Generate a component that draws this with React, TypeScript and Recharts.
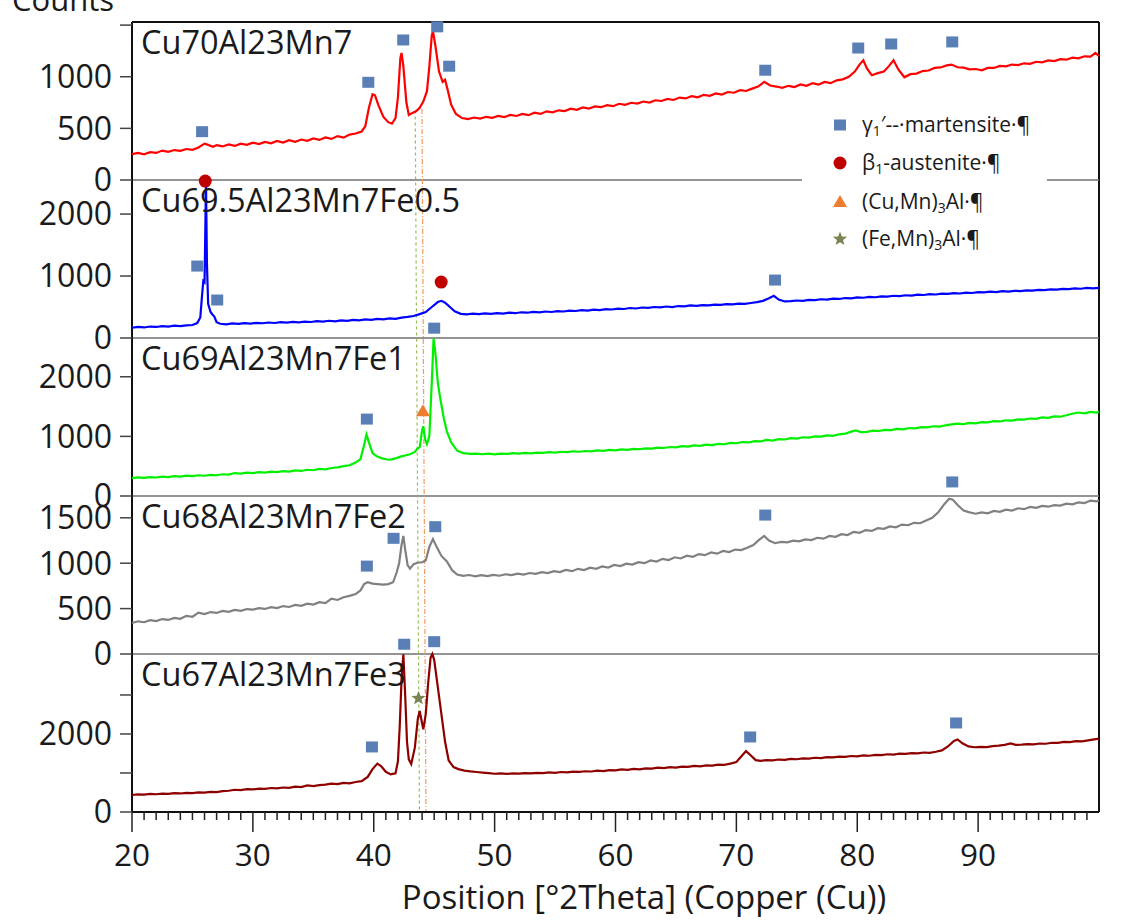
import React from "react";
import { LineChart, Line, XAxis, YAxis, ReferenceDot, ReferenceLine } from "recharts";

type Pt = [number, number];
type Mark = { x: number; y: number; kind: "sq" | "circ" | "tri" | "star" };

// diffraction patterns, [2theta, counts]
const cu70: Pt[] = [
  [20, 250], [20.5, 262], [21, 248], [21.5, 270], [22, 262], [22.5, 285], [23, 272], [23.5, 290], [24, 282], [24.5, 300],
  [25, 292], [25.5, 315], [26, 352], [26.3, 340], [26.7, 322], [27, 338], [27.5, 325], [28, 345], [28.5, 330], [29, 352],
  [29.5, 340], [30, 362], [30.5, 348], [31, 368], [31.5, 355], [32, 378], [32.5, 362], [33, 385], [33.5, 370], [34, 392],
  [34.5, 380], [35, 402], [35.5, 388], [36, 412], [36.5, 398], [37, 425], [37.5, 410], [38, 440], [38.5, 450], [39, 470],
  [39.3, 520], [39.6, 700], [39.9, 830], [40.1, 820], [40.4, 720], [40.8, 610], [41.2, 560], [41.5, 545], [41.8, 600], [42, 800],
  [42.2, 1180], [42.3, 1230], [42.45, 1100], [42.7, 750], [42.9, 630], [43.2, 650], [43.5, 665], [43.8, 700], [44.1, 760], [44.4, 860],
  [44.6, 1100], [44.8, 1400], [44.9, 1440], [45.1, 1300], [45.4, 1050], [45.7, 950], [45.9, 970], [46.1, 880], [46.4, 730], [46.8, 640],
  [47.3, 600], [47.8, 590], [48.3, 605], [48.8, 595], [49.3, 612], [49.8, 602], [50.3, 620], [50.8, 610], [51.3, 630], [51.8, 620],
  [52.3, 640], [52.8, 628], [53.3, 652], [53.8, 640], [54.3, 665], [54.8, 655], [55.3, 675], [55.8, 668], [56.3, 690], [56.8, 680],
  [57.3, 702], [57.8, 692], [58.3, 712], [58.8, 705], [59.3, 725], [59.8, 715], [60.3, 738], [60.8, 728], [61.3, 748], [61.8, 740],
  [62.3, 760], [62.8, 750], [63.3, 772], [63.8, 765], [64.3, 785], [64.8, 775], [65.3, 798], [65.8, 790], [66.3, 812], [66.8, 800],
  [67.3, 825], [67.8, 815], [68.3, 838], [68.8, 828], [69.3, 852], [69.8, 845], [70.3, 870], [70.8, 862], [71.3, 885], [71.8, 905],
  [72.3, 950], [72.8, 915], [73.3, 905], [73.8, 892], [74.3, 912], [74.8, 900], [75.3, 925], [75.8, 912], [76.3, 938], [76.8, 925],
  [77.3, 950], [77.8, 938], [78.3, 965], [78.8, 975], [79.3, 1000], [79.8, 1050], [80.2, 1120], [80.5, 1160], [80.8, 1080], [81.2, 1015],
  [81.7, 1035], [82.2, 1050], [82.6, 1100], [83, 1160], [83.4, 1070], [83.9, 995], [84.4, 1025], [84.9, 1030], [85.4, 1055], [85.9, 1060],
  [86.4, 1085], [86.9, 1090], [87.4, 1110], [87.8, 1118], [88.3, 1092], [88.8, 1088], [89.3, 1072], [89.8, 1075], [90.3, 1062], [90.8, 1085],
  [91.3, 1085], [91.8, 1105], [92.3, 1100], [92.8, 1118], [93.3, 1112], [93.8, 1130], [94.3, 1125], [94.8, 1145], [95.3, 1140], [95.8, 1158],
  [96.3, 1152], [96.8, 1170], [97.3, 1165], [97.8, 1185], [98.3, 1178], [98.8, 1198], [99.3, 1195], [99.7, 1230], [100, 1200],
];

const cu695: Pt[] = [
  [20, 165], [20.5, 180], [21, 170], [21.5, 185], [22, 178], [22.5, 192], [23, 185], [23.5, 200], [24, 192], [24.5, 205],
  [25, 210], [25.4, 240], [25.65, 330], [25.8, 700], [25.9, 920], [26, 900], [26.05, 1500], [26.12, 2530], [26.2, 1200], [26.3, 550],
  [26.5, 420], [26.65, 380], [26.8, 350], [27, 255], [27.3, 230], [27.8, 220], [28.3, 235], [28.8, 228], [29.3, 240], [29.8, 232],
  [30.3, 245], [30.8, 238], [31.3, 250], [31.8, 242], [32.3, 255], [32.8, 248], [33.3, 260], [33.8, 252], [34.3, 265], [34.8, 258],
  [35.3, 272], [35.8, 265], [36.3, 278], [36.8, 270], [37.3, 285], [37.8, 278], [38.3, 292], [38.8, 285], [39.3, 300], [39.8, 292],
  [40.3, 308], [40.8, 300], [41.3, 318], [41.8, 310], [42.3, 330], [42.8, 340], [43.3, 355], [43.8, 385], [44.3, 420], [44.8, 500],
  [45.3, 580], [45.6, 600], [45.9, 570], [46.3, 500], [46.7, 430], [47.2, 390], [47.7, 380], [48.2, 392], [48.7, 385], [49.2, 398],
  [49.7, 390], [50.2, 400], [50.7, 395], [51.2, 408], [51.7, 400], [52.2, 415], [52.7, 408], [53.2, 420], [53.7, 415], [54.2, 428],
  [54.7, 420], [55.2, 435], [55.7, 428], [56.2, 442], [56.7, 436], [57.2, 450], [57.7, 442], [58.2, 458], [58.7, 450], [59.2, 466],
  [59.7, 460], [60.2, 475], [60.7, 468], [61.2, 484], [61.7, 476], [62.2, 492], [62.7, 485], [63.2, 500], [63.7, 494], [64.2, 508],
  [64.7, 500], [65.2, 516], [65.7, 510], [66.2, 525], [66.7, 518], [67.2, 532], [67.7, 526], [68.2, 540], [68.7, 534], [69.2, 548],
  [69.7, 542], [70.2, 556], [70.7, 550], [71.2, 565], [71.7, 580], [72.2, 600], [72.7, 640], [73.1, 680], [73.5, 620], [74, 590],
  [74.5, 595], [75, 605], [75.5, 600], [76, 615], [76.5, 610], [77, 625], [77.5, 620], [78, 635], [78.5, 630], [79, 645],
  [79.5, 640], [80, 655], [80.5, 650], [81, 664], [81.5, 658], [82, 672], [82.5, 668], [83, 682], [83.5, 676], [84, 690],
  [84.5, 685], [85, 700], [85.5, 694], [86, 708], [86.5, 702], [87, 716], [87.5, 712], [88, 724], [88.5, 718], [89, 732],
  [89.5, 726], [90, 740], [90.5, 735], [91, 748], [91.5, 742], [92, 756], [92.5, 750], [93, 762], [93.5, 758], [94, 770],
  [94.5, 765], [95, 778], [95.5, 772], [96, 786], [96.5, 780], [97, 792], [97.5, 788], [98, 800], [98.5, 795], [99, 808],
  [99.5, 802], [100, 810],
];

const cu69: Pt[] = [
  [20, 300], [20.5, 312], [21, 305], [21.5, 318], [22, 310], [22.5, 325], [23, 318], [23.5, 332], [24, 325], [24.5, 340],
  [25, 333], [25.5, 348], [26, 340], [26.5, 355], [27, 348], [27.5, 365], [28, 358], [28.5, 385], [29, 375], [29.5, 392],
  [30, 385], [30.5, 400], [31, 392], [31.5, 408], [32, 400], [32.5, 418], [33, 410], [33.5, 428], [34, 420], [34.5, 440],
  [35, 432], [35.5, 455], [36, 445], [36.5, 470], [37, 480], [37.5, 500], [38, 515], [38.5, 560], [38.9, 620], [39.2, 850],
  [39.4, 1030], [39.6, 900], [39.9, 720], [40.25, 665], [40.7, 630], [41.1, 612], [41.4, 610], [41.8, 630], [42.2, 660], [42.6, 680],
  [43, 700], [43.4, 740], [43.6, 790], [43.8, 820], [44, 1100], [44.1, 1170], [44.25, 950], [44.4, 870], [44.6, 1000], [44.8, 1900],
  [44.95, 2640], [45.1, 2400], [45.3, 1900], [45.5, 1640], [45.8, 1300], [46.05, 1085], [46.4, 900], [46.9, 760], [47.4, 720], [48, 705],
  [48.5, 712], [49, 700], [49.5, 710], [50, 698], [50.5, 712], [51, 705], [51.5, 718], [52, 710], [52.5, 722], [53, 715],
  [53.5, 728], [54, 722], [54.5, 735], [55, 728], [55.5, 742], [56, 736], [56.5, 750], [57, 742], [57.5, 755], [58, 750],
  [58.5, 765], [59, 758], [59.5, 772], [60, 765], [60.5, 782], [61, 775], [61.5, 790], [62, 784], [62.5, 800], [63, 795],
  [63.5, 812], [64, 805], [64.5, 822], [65, 815], [65.5, 835], [66, 828], [66.5, 848], [67, 840], [67.5, 860], [68, 855],
  [68.5, 875], [69, 868], [69.5, 890], [70, 885], [70.5, 905], [71, 898], [71.5, 920], [72, 915], [72.5, 940], [73, 930],
  [73.5, 955], [74, 948], [74.5, 970], [75, 962], [75.5, 985], [76, 978], [76.5, 1000], [77, 995], [77.5, 1018], [78, 1010],
  [78.5, 1035], [79, 1045], [79.5, 1080], [79.9, 1100], [80.3, 1070], [80.8, 1075], [81.3, 1095], [81.8, 1090], [82.3, 1110], [82.8, 1105],
  [83.3, 1125], [83.8, 1118], [84.3, 1140], [84.8, 1135], [85.3, 1155], [85.8, 1150], [86.3, 1170], [86.8, 1165], [87.3, 1185], [87.8, 1200],
  [88.3, 1215], [88.8, 1205], [89.3, 1225], [89.8, 1218], [90.3, 1240], [90.8, 1235], [91.3, 1255], [91.8, 1250], [92.3, 1270], [92.8, 1265],
  [93.3, 1285], [93.8, 1280], [94.3, 1300], [94.8, 1295], [95.3, 1318], [95.8, 1312], [96.3, 1335], [96.8, 1330], [97.3, 1355], [97.8, 1380],
  [98.3, 1400], [98.8, 1385], [99.3, 1410], [99.8, 1400], [100, 1415],
];

const cu68: Pt[] = [
  [20, 342], [20.5, 360], [21, 350], [21.5, 372], [22, 362], [22.5, 385], [23, 375], [23.5, 398], [24, 388], [24.5, 420],
  [25, 410], [25.5, 455], [26, 440], [26.5, 462], [27, 452], [27.5, 475], [28, 465], [28.5, 485], [29, 475], [29.5, 495],
  [30, 488], [30.5, 505], [31, 496], [31.5, 515], [32, 505], [32.5, 528], [33, 518], [33.5, 540], [34, 530], [34.5, 555],
  [35, 545], [35.5, 570], [36, 560], [36.5, 610], [37, 595], [37.5, 625], [38, 640], [38.5, 660], [38.9, 700], [39.2, 770],
  [39.5, 790], [39.9, 775], [40.3, 770], [40.8, 765], [41.2, 770], [41.6, 790], [41.9, 900], [42.1, 1000], [42.3, 1200], [42.45, 1300],
  [42.6, 1150], [42.8, 980], [43, 940], [43.3, 990], [43.6, 1005], [44, 1010], [44.3, 1030], [44.6, 1180], [44.9, 1265], [45.2, 1180],
  [45.6, 1080], [46.05, 1020], [46.5, 920], [46.9, 875], [47.4, 860], [47.9, 870], [48.4, 855], [48.9, 868], [49.4, 858], [49.9, 872],
  [50.4, 862], [50.9, 878], [51.4, 868], [51.9, 885], [52.4, 875], [52.9, 892], [53.4, 882], [53.9, 902], [54.4, 892], [54.9, 912],
  [55.4, 902], [55.9, 925], [56.4, 912], [56.9, 938], [57.4, 925], [57.9, 950], [58.4, 938], [58.9, 965], [59.4, 952], [59.9, 980],
  [60.4, 968], [60.9, 995], [61.4, 985], [61.9, 1012], [62.4, 1000], [62.9, 1030], [63.4, 1018], [63.9, 1048], [64.4, 1035], [64.9, 1065],
  [65.4, 1052], [65.9, 1082], [66.4, 1070], [66.9, 1100], [67.4, 1088], [67.9, 1118], [68.4, 1105], [68.9, 1135], [69.4, 1122], [69.9, 1150],
  [70.4, 1145], [70.9, 1170], [71.4, 1200], [71.9, 1260], [72.3, 1300], [72.7, 1250], [73.2, 1220], [73.7, 1235], [74.2, 1230], [74.7, 1248],
  [75.2, 1240], [75.7, 1262], [76.2, 1255], [76.7, 1280], [77.2, 1270], [77.7, 1300], [78.2, 1290], [78.7, 1320], [79.2, 1310], [79.7, 1345],
  [80.2, 1335], [80.7, 1365], [81.2, 1355], [81.7, 1385], [82.2, 1378], [82.7, 1405], [83.2, 1395], [83.7, 1425], [84.2, 1418], [84.7, 1445],
  [85.2, 1440], [85.7, 1470], [86.2, 1500], [86.7, 1560], [87.2, 1650], [87.6, 1710], [87.9, 1700], [88.3, 1640], [88.8, 1580], [89.3, 1560],
  [89.8, 1545], [90.3, 1560], [90.8, 1550], [91.3, 1575], [91.8, 1565], [92.3, 1590], [92.8, 1580], [93.3, 1605], [93.8, 1595], [94.3, 1620],
  [94.8, 1610], [95.3, 1630], [95.8, 1622], [96.3, 1640], [96.8, 1635], [97.3, 1655], [97.8, 1648], [98.3, 1670], [98.8, 1662], [99.3, 1690],
  [99.8, 1680], [100, 1690],
];

const cu67: Pt[] = [
  [20, 436], [20.5, 450], [21, 445], [21.5, 462], [22, 455], [22.5, 472], [23, 465], [23.5, 482], [24, 475], [24.5, 492],
  [25, 485], [25.5, 505], [26, 498], [26.5, 518], [27, 510], [27.5, 535], [28, 545], [28.5, 570], [29, 560], [29.5, 585],
  [30, 578], [30.5, 600], [31, 592], [31.5, 615], [32, 605], [32.5, 628], [33, 620], [33.5, 650], [34, 640], [34.5, 680],
  [35, 665], [35.5, 690], [36, 700], [36.5, 725], [37, 715], [37.5, 745], [38, 735], [38.5, 770], [39, 790], [39.5, 900],
  [39.9, 1100], [40.3, 1240], [40.6, 1180], [41, 1030], [41.4, 965], [41.8, 990], [42, 1300], [42.15, 2200], [42.3, 3400], [42.45, 4040],
  [42.6, 3000], [42.75, 1800], [42.9, 1350], [43.1, 1230], [43.4, 1650], [43.65, 2400], [43.8, 2590], [43.95, 2350], [44.1, 2120], [44.3, 2500],
  [44.5, 3300], [44.7, 3950], [44.85, 4050], [45, 3900], [45.3, 3200], [45.6, 2500], [45.9, 1800], [46.2, 1320], [46.6, 1150], [47, 1100],
  [47.5, 1060], [48, 1040], [48.5, 1025], [49, 1010], [49.5, 995], [50, 980], [50.5, 990], [51, 975], [51.5, 990], [52, 982],
  [52.5, 998], [53, 990], [53.5, 1005], [54, 998], [54.5, 1015], [55, 1005], [55.5, 1025], [56, 1015], [56.5, 1035], [57, 1028],
  [57.5, 1045], [58, 1038], [58.5, 1060], [59, 1050], [59.5, 1075], [60, 1065], [60.5, 1090], [61, 1080], [61.5, 1105], [62, 1095],
  [62.5, 1120], [63, 1110], [63.5, 1135], [64, 1125], [64.5, 1150], [65, 1140], [65.5, 1165], [66, 1155], [66.5, 1180], [67, 1172],
  [67.5, 1195], [68, 1190], [68.5, 1215], [69, 1210], [69.5, 1240], [70, 1280], [70.4, 1420], [70.8, 1560], [71.2, 1450], [71.6, 1330],
  [72, 1310], [72.5, 1330], [73, 1322], [73.5, 1345], [74, 1338], [74.5, 1360], [75, 1352], [75.5, 1375], [76, 1368], [76.5, 1390],
  [77, 1382], [77.5, 1405], [78, 1398], [78.5, 1420], [79, 1412], [79.5, 1435], [80, 1428], [80.5, 1450], [81, 1442], [81.5, 1465],
  [82, 1458], [82.5, 1480], [83, 1472], [83.5, 1495], [84, 1488], [84.5, 1510], [85, 1502], [85.5, 1525], [86, 1518], [86.5, 1545],
  [87, 1580], [87.5, 1680], [88, 1820], [88.3, 1860], [88.7, 1760], [89.2, 1680], [89.7, 1660], [90.2, 1670], [90.7, 1665], [91.2, 1690],
  [91.7, 1700], [92.2, 1720], [92.7, 1760], [93.1, 1720], [93.6, 1725], [94.1, 1740], [94.6, 1735], [95.1, 1755], [95.6, 1750], [96.1, 1775],
  [96.6, 1770], [97.1, 1795], [97.6, 1790], [98.1, 1815], [98.6, 1810], [99.1, 1835], [99.6, 1860], [100, 1880],
];

// phase markers per pattern
const marksCu70: Mark[] = [
  { x: 25.8, y: 468, kind: "sq" }, { x: 39.55, y: 946, kind: "sq" }, { x: 42.44, y: 1356, kind: "sq" },
  { x: 45.25, y: 1483, kind: "sq" }, { x: 46.24, y: 1102, kind: "sq" }, { x: 72.39, y: 1063, kind: "sq" },
  { x: 80.08, y: 1278, kind: "sq" }, { x: 82.81, y: 1317, kind: "sq" }, { x: 87.86, y: 1337, kind: "sq" },
];
const marksCu695: Mark[] = [
  { x: 26.06, y: 2532, kind: "circ" }, { x: 25.4, y: 1161, kind: "sq" }, { x: 27.05, y: 613, kind: "sq" },
  { x: 45.58, y: 903, kind: "circ" }, { x: 73.2, y: 935, kind: "sq" },
];
const marksCu69: Mark[] = [
  { x: 45.0, y: 2815, kind: "sq" }, { x: 39.43, y: 1290, kind: "sq" }, { x: 44.07, y: 1420, kind: "tri" },
];
const marksCu68: Mark[] = [
  { x: 39.43, y: 968, kind: "sq" }, { x: 41.64, y: 1274, kind: "sq" }, { x: 45.09, y: 1402, kind: "sq" },
  { x: 72.39, y: 1530, kind: "sq" }, { x: 87.86, y: 1895, kind: "sq" },
];
const marksCu67: Mark[] = [
  { x: 42.52, y: 4300, kind: "sq" }, { x: 45.0, y: 4366, kind: "sq" }, { x: 43.7, y: 2915, kind: "star" },
  { x: 39.85, y: 1667, kind: "sq" }, { x: 71.14, y: 1923, kind: "sq" }, { x: 88.18, y: 2282, kind: "sq" },
];

const xTicks = Array.from({ length: 80 }, (_, i) => 20 + i);

const legendItems = [
  { kind: "sq", pre: "γ", sub: "1", post: "′--·martensite·¶" },
  { kind: "circ", pre: "β", sub: "1", post: "-austenite·¶" },
  { kind: "tri", pre: "(Cu,Mn)", sub: "3", post: "Al·¶" },
  { kind: "star", pre: "(Fe,Mn)", sub: "3", post: "Al·¶" },
] as const;

const panels = [
  { name: "Cu70Al23Mn7", color: "#ff0000", data: cu70, max: 1530, ticks: [0, 500, 1000, 1500], shown: [0, 500, 1000], marks: marksCu70 },
  { name: "Cu69.5Al23Mn7Fe0.5", color: "#0000ff", data: cu695, max: 2550, ticks: [0, 1000, 2000], shown: [0, 1000, 2000], marks: marksCu695 },
  { name: "Cu69Al23Mn7Fe1", color: "#00f000", data: cu69, max: 2650, ticks: [0, 1000, 2000], shown: [0, 1000, 2000], marks: marksCu69 },
  { name: "Cu68Al23Mn7Fe2", color: "#808080", data: cu68, max: 1740, ticks: [0, 500, 1000, 1500], shown: [0, 500, 1000, 1500], marks: marksCu68 },
  { name: "Cu67Al23Mn7Fe3", color: "#8e0000", data: cu67, max: 4050, ticks: [0, 1000, 2000, 3000], shown: [0, 2000], marks: marksCu67 },
];

const FONT = "'Open Sans', sans-serif";
const PANEL_H = 158;
const TOP = 22;

function markGlyph(kind: string, cx: number, cy: number) {
  if (kind === "sq") return <rect x={cx - 6} y={cy - 5.5} width={12} height={11} fill="#5a7fb6" />;
  if (kind === "circ") return <circle cx={cx} cy={cy} r={6.5} fill="#c00000" />;
  if (kind === "tri") return <polygon points={`${cx},${cy - 7} ${cx - 7},${cy + 5} ${cx + 7},${cy + 5}`} fill="#ed7d31" />;
  const pts: string[] = [];
  for (let i = 0; i < 10; i++) {
    const r = i % 2 === 0 ? 7.5 : 3.2;
    const a = -Math.PI / 2 + (i * Math.PI) / 5;
    pts.push(`${cx + r * Math.cos(a)},${cy + r * Math.sin(a)}`);
  }
  return <polygon points={pts.join(" ")} fill="#7b8552" />;
}

const XTick = (p: any) => {
  const { x, y, payload } = p;
  const v = payload.value;
  const major = v % 10 === 0;
  return (
    <g>
      <line x1={x} x2={x} y1={y} y2={y + (major ? 20 : 8)} stroke="#222" strokeWidth={1.5} />
      {major && (
        <text x={x} y={y + 54} textAnchor="middle" fontSize={31.5} fill="#1a1a1a" fontFamily={FONT}>
          {v}
        </text>
      )}
    </g>
  );
};

export default function App() {
  const baseData = cu67.map(([x, y]) => ({ x, y }));
  return (
    <div style={{ position: "absolute", left: 0, top: 0, width: 1132, height: 922, background: "#fff", fontFamily: FONT }}>
      {/* frame, separators, bottom axis, guide lines */}
      <div style={{ position: "absolute", left: 0, top: TOP - 20 }}>
        <LineChart width={1132} height={920} margin={{ top: 20, right: 33, bottom: 0, left: 0 }} data={baseData}>
          <XAxis
            type="number"
            dataKey="x"
            domain={[20, 100]}
            allowDataOverflow
            ticks={xTicks}
            interval={0}
            tickSize={0}
            tickMargin={0}
            tickLine={false}
            height={110}
            axisLine={{ stroke: "#111", strokeWidth: 2 }}
            tick={XTick}
          />
          <YAxis
            type="number"
            domain={[0, 5]}
            allowDataOverflow
            width={132}
            tick={false}
            tickLine={false}
            axisLine={{ stroke: "#111", strokeWidth: 2 }}
          />
          <ReferenceLine y={5} stroke="#111" strokeWidth={2} />
          <ReferenceLine x={100} stroke="#111" strokeWidth={2} />
          {[1, 2, 3, 4].map((v) => (
            <ReferenceLine key={v} y={v} stroke="#707070" strokeWidth={1.5} />
          ))}
          <ReferenceLine segment={[{ x: 43.43, y: 4.44 }, { x: 43.78, y: 0 }]} stroke="#9bbb59" strokeWidth={1.2} strokeDasharray="3 3" />
          <ReferenceLine segment={[{ x: 43.99, y: 4.45 }, { x: 44.32, y: 0 }]} stroke="#f59a5e" strokeWidth={1.2} strokeDasharray="5 2 1 2" />
        </LineChart>
      </div>

      {panels.map((pn, i) => (
        <div key={pn.name} style={{ position: "absolute", left: 0, top: TOP + PANEL_H * i - 20 }}>
          <LineChart
            width={1132}
            height={PANEL_H + 40}
            margin={{ top: 20, right: 33, bottom: 20, left: 0 }}
            data={pn.data.map(([x, y]) => ({ x, y }))}
          >
            <XAxis type="number" dataKey="x" domain={[20, 100]} hide />
            <YAxis
              type="number"
              domain={[0, pn.max]}
              ticks={pn.ticks}
              interval={0}
              width={132}
              axisLine={false}
              tickSize={12}
              tickMargin={8}
              tickLine={{ stroke: "#444", strokeWidth: 1.5 }}
              tick={{ fontSize: 32, fill: "#1a1a1a", fontFamily: FONT }}
              tickFormatter={(v: number) => (pn.shown.includes(v) ? String(v) : "")}
            />
            <Line type="linear" dataKey="y" stroke={pn.color} strokeWidth={2.2} dot={false} isAnimationActive={false} />
            {pn.marks.map((m, k) => (
              <ReferenceDot
                key={k}
                x={m.x}
                y={m.y}
                r={6}
                ifOverflow="visible"
                shape={(p: any) => markGlyph(m.kind, p.cx, p.cy)}
              />
            ))}
          </LineChart>
        </div>
      ))}

      <svg width={1132} height={922} style={{ position: "absolute", left: 0, top: 0, pointerEvents: "none" }}>
        <text x={12} y={11} fontSize={31} fill="#1a1a1a" fontFamily={FONT}>Counts</text>
        {panels.map((pn, i) => (
          <text key={pn.name} x={141} y={TOP + PANEL_H * i + 32} fontSize={32.5} fill="#1a1a1a" fontFamily={FONT}>
            {pn.name}
          </text>
        ))}
        <text x={644} y={909} fontSize={33} textAnchor="middle" fill="#1a1a1a" fontFamily={FONT}>
          Position [°2Theta] (Copper (Cu))
        </text>
        <rect x={802} y={100} width={245} height={158} fill="#fff" />
        {legendItems.map((it, k) => {
          const cy = [125, 163, 202, 239][k];
          return (
            <g key={k}>
              {markGlyph(it.kind, 840, cy)}
              <text x={862} y={cy + 7} fontSize={21} fill="#1a1a1a" fontFamily={FONT}>
                {it.pre}
                <tspan fontSize={14} dy={4}>{it.sub}</tspan>
                <tspan dy={-4}>{it.post}</tspan>
              </text>
            </g>
          );
        })}
      </svg>
    </div>
  );
}
